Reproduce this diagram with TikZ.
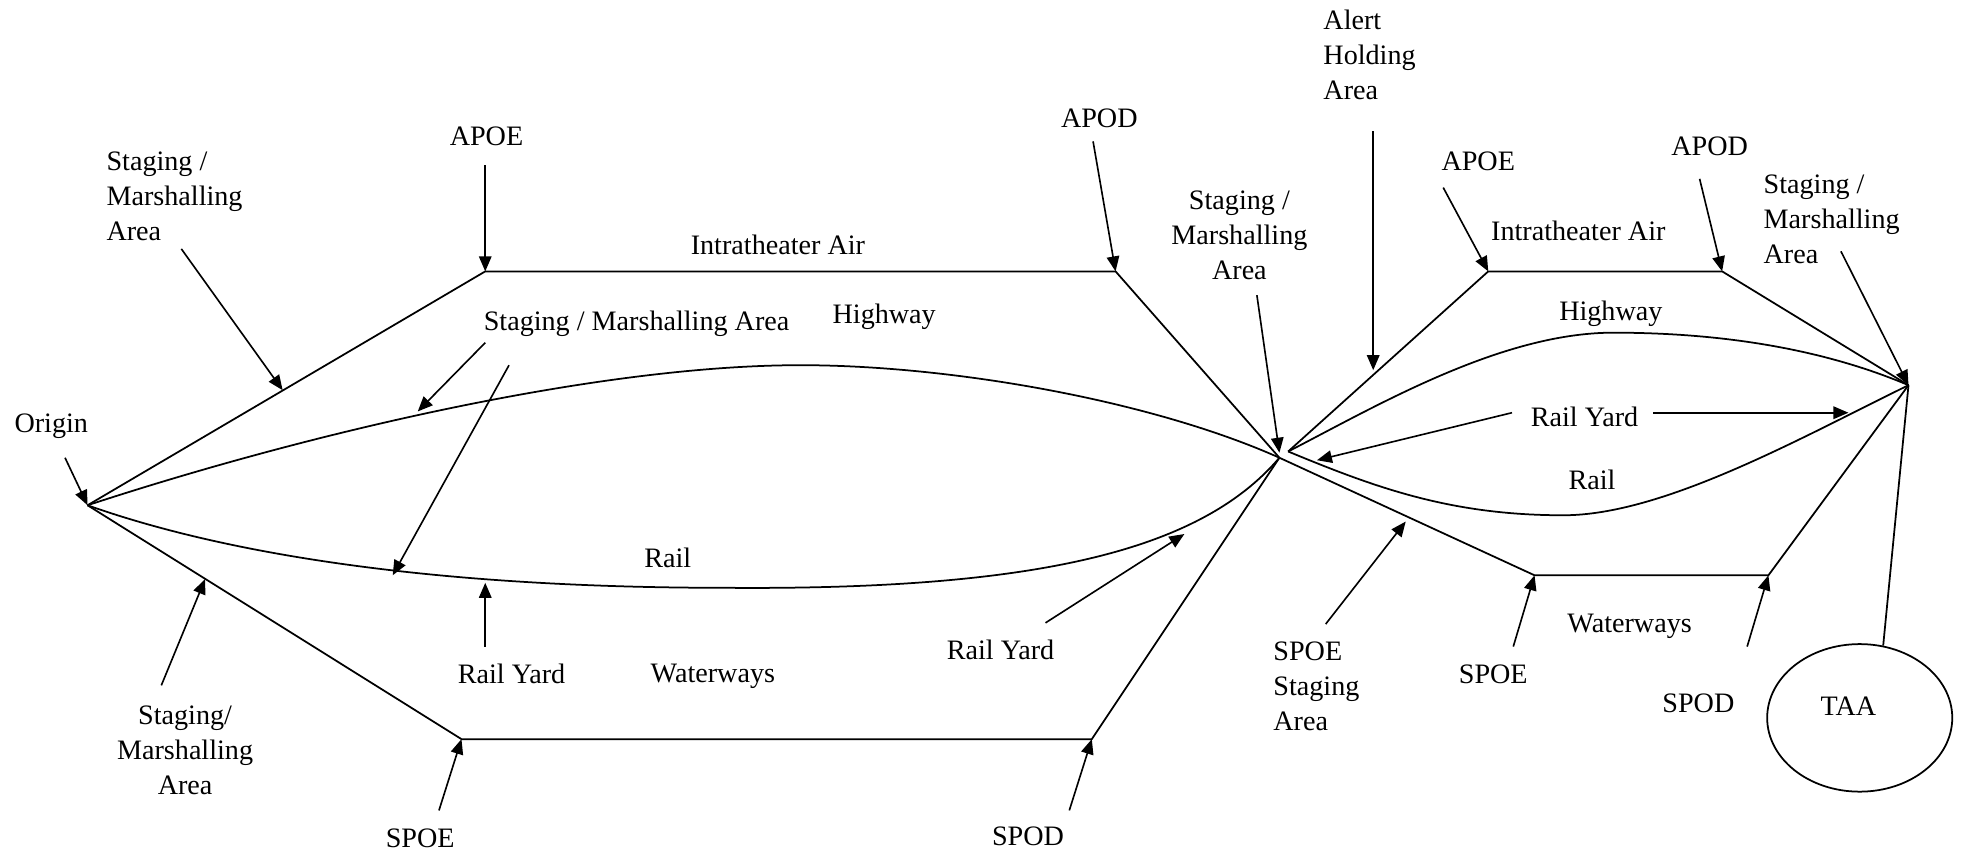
\documentclass[tikz,border=0pt]{standalone}
\usepackage{fontspec}
\setmainfont{Liberation Serif}
\usetikzlibrary{arrows.meta,shapes.geometric}
\begin{document}
\begin{tikzpicture}[x=1pt,y=-1pt,
  route/.style={line width=1.4pt, line join=round},
  pointer/.style={line width=1.3pt, -{Triangle[length=12pt,width=10pt]}},
  lbl/.style={inner sep=0pt, font=\fontsize{22.5}{28}\selectfont},
  lblL/.style={lbl, align=left, anchor=west},
  lblC/.style={lbl, align=center},
  area/.style={ellipse, draw, line width=1.4pt, minimum width=148pt, minimum height=118pt, inner sep=0pt}]
\useasboundingbox (0,0) rectangle (1568,683);

% junctions of the network
\coordinate (O)  at (70,404);
\coordinate (A1) at (388,217);
\coordinate (A2) at (892,217);
\coordinate (W1) at (369,591);
\coordinate (W2) at (873,591);
\coordinate (J)  at (1023,366);
\coordinate (Jb) at (1030,361);
\coordinate (A3) at (1190,217);
\coordinate (A4) at (1377,217);
\coordinate (W3) at (1227,460);
\coordinate (W4) at (1414,460);
\coordinate (T)  at (1526,308);

% theater assembly area
\node[area] (taa) at (1487,574) {};
\node[lbl] (taatext) at (1478,565) {TAA};

% labels
\node[lblL] (smTL) at (85,157) {Staging /\\Marshalling\\Area};
\node[lbl] (apoeL) at (389,109) {APOE};
\node[lbl] (airL) at (622,196) {Intratheater Air};
\node[lbl] (apodL) at (879,95) {APOD};
\node[lbl] (smMid) at (509,259) {Staging / Marshalling Area};
\node[lbl] (hwyL) at (707,253) {Highway};
\node[lbl] (orig) at (41,341) {Origin};
\node[lbl] (railL) at (534,446) {Rail};
\node[lbl] (ryA) at (409,539) {Rail Yard};
\node[lbl] (wwL) at (570,541) {Waterways};
\node[lbl] (ryB) at (800,520) {Rail Yard};
\node[lblC] (smBL) at (148,600) {Staging/\\Marshalling\\Area};
\node[lbl] (spoeL) at (336,670) {SPOE};
\node[lbl] (spodL) at (822,669) {SPOD};
\node[lblC] (smC) at (991,188) {Staging /\\Marshalling\\Area};
\node[lblL] (aha) at (1058,44) {Alert\\Holding\\Area};
\node[lbl] (apoeR) at (1182,129) {APOE};
\node[lbl] (airR) at (1262,185) {Intratheater Air};
\node[lbl] (apodR) at (1367,117) {APOD};
\node[lblL] (smR) at (1410,175) {Staging /\\Marshalling\\Area};
\node[lbl] (hwyR) at (1288,251) {Highway};
\node[lbl] (ryC) at (1267,333) {Rail Yard};
\node[lbl] (railR) at (1273,384) {Rail};
\node[lblL] (spoeSA) at (1018,549) {SPOE\\Staging\\Area};
\node[lbl] (spoeR) at (1194,539) {SPOE};
\node[lbl] (wwR) at (1303,501) {Waterways};
\node[lbl] (spodR) at (1358,562) {SPOD};

% routes, origin to intermediate staging
\draw[route] (O) -- (A1) -- (A2) -- (J);
\draw[route] (O) -- (W1) -- (W2) -- (J);
\draw[route] (O) .. controls (250,345) and (480,292) .. (640,292)
                 .. controls (760,292) and (920,320) .. (J);
\draw[route] (O) .. controls (200,450) and (380,470) .. (580,470)
                 .. controls (830,472) and (960,440) .. (J);

% routes, intermediate staging to final hub
\draw[route] (Jb) -- (A3) -- (A4) -- (T);
\draw[route] (J) -- (W3) -- (W4) -- (T);
\draw[route] (Jb) .. controls (1100,325) and (1200,266) .. (1290,266)
                  .. controls (1380,266) and (1460,280) .. (T);
\draw[route] (Jb) .. controls (1100,390) and (1160,412) .. (1250,412)
                  .. controls (1330,412) and (1440,350) .. (T);
\draw[route] (taa.72) -- (T);

% pointer tails and heads
\coordinate (origS) at (52,366);
\coordinate (smTLs) at (145,199);  \coordinate (smTLe) at (226,312);
\coordinate (apoeLs) at (388,132);
\coordinate (apodLs) at (874,113);
\coordinate (smMidS1) at (388,274); \coordinate (smMidE1) at (334,329);
\coordinate (smMidS2) at (407,292); \coordinate (smMidE2) at (314,460);
\coordinate (ryAs) at (388,517);   \coordinate (ryAe) at (388,466);
\coordinate (ryBs) at (836,498);   \coordinate (ryBe) at (947,427);
\coordinate (smBLs) at (129,548);  \coordinate (smBLe) at (164,463);
\coordinate (spoeLs) at (351,648);
\coordinate (spodLs) at (855,648);
\coordinate (smCs) at (1005,236);  \coordinate (smCe) at (1023,362);
\coordinate (ahas) at (1098,105);  \coordinate (ahae) at (1098,296);
\coordinate (apoeRs) at (1154,150);
\coordinate (apodRs) at (1359,143);
\coordinate (smRs) at (1472,201);
\coordinate (ryCs1) at (1209,330); \coordinate (ryCe1) at (1053,368);
\coordinate (ryCs2) at (1322,330); \coordinate (ryCe2) at (1478,330);
\coordinate (spoeSAs) at (1060,499); \coordinate (spoeSAe) at (1124,417);
\coordinate (spoeRs) at (1210,517);
\coordinate (spodRs) at (1397,517);

\draw[pointer] (origS) -- (O);
\draw[pointer] (smTLs) -- (smTLe);
\draw[pointer] (apoeLs) -- (A1);
\draw[pointer] (apodLs) -- (A2);
\draw[pointer] (smMidS1) -- (smMidE1);
\draw[pointer] (smMidS2) -- (smMidE2);
\draw[pointer] (ryAs) -- (ryAe);
\draw[pointer] (ryBs) -- (ryBe);
\draw[pointer] (smBLs) -- (smBLe);
\draw[pointer] (spoeLs) -- (W1);
\draw[pointer] (spodLs) -- (W2);
\draw[pointer] (smCs) -- (smCe);
\draw[pointer] (ahas) -- (ahae);
\draw[pointer] (apoeRs) -- (A3);
\draw[pointer] (apodRs) -- (A4);
\draw[pointer] (smRs) -- (T);
\draw[pointer] (ryCs1) -- (ryCe1);
\draw[pointer] (ryCs2) -- (ryCe2);
\draw[pointer] (spoeSAs) -- (spoeSAe);
\draw[pointer] (spoeRs) -- (W3);
\draw[pointer] (spodRs) -- (W4);
\end{tikzpicture}
\end{document}
